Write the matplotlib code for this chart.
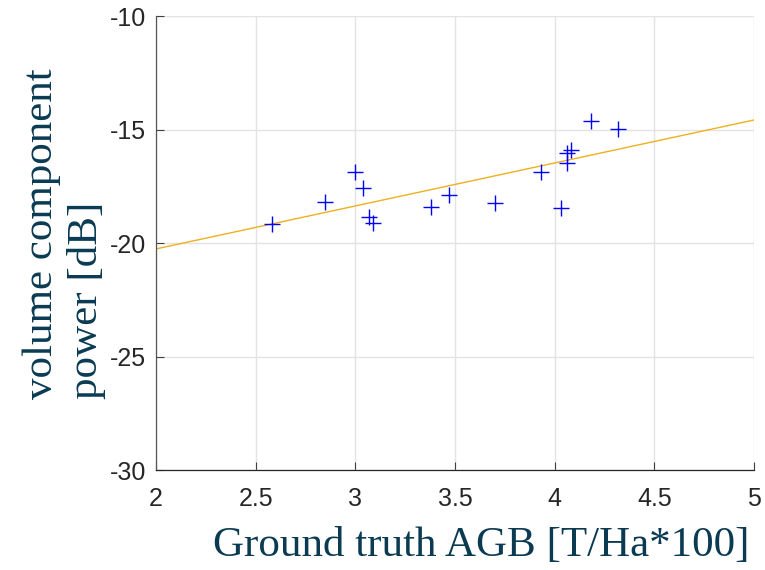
import numpy as np
import matplotlib.pyplot as plt

# ground truth AGB [T/Ha*100] vs volume component power [dB]
agb = [2.58, 2.85, 3.00, 3.04, 3.07, 3.09, 3.38, 3.47, 3.70, 3.93,
       4.03, 4.06, 4.08, 4.06, 4.18, 4.32]
power_db = [-19.16, -18.18, -16.89, -17.59, -18.84, -19.10, -18.41, -17.90,
            -18.24, -16.87, -18.47, -16.02, -15.90, -16.49, -14.63, -14.98]

# fitted line, read at the axis ends
fit_x = [2.0, 5.0]
fit_y = [-20.26, -14.58]

xticks = [2, 2.5, 3, 3.5, 4, 4.5, 5]
xticklabels = ["2", "2.5", "3", "3.5", "4", "4.5", "5"]
yticks = [-30, -25, -20, -15, -10]
yticklabels = ["-30", "-25", "-20", "-15", "-10"]


def main():
    fig = plt.figure(figsize=(7.65, 5.70), dpi=100)
    ax = fig.add_axes([0.2039, 0.1754, 0.7817, 0.7965])

    ax.plot(agb, power_db, "+", color="#0000ff", markersize=11, markeredgewidth=1.0,
            zorder=3)
    ax.plot(fit_x, fit_y, "-", color="#EDB120", linewidth=1.0, zorder=2)

    ax.set_xlim(2, 5)
    ax.set_ylim(-30, -10)
    ax.set_xticks(xticks)
    ax.set_xticklabels(xticklabels)
    ax.set_yticks(yticks)
    ax.set_yticklabels(yticklabels)

    ax.grid(True, color="#e3e3e3", linewidth=1.0)
    ax.set_axisbelow(True)
    for side in ["top", "right"]:
        ax.spines[side].set_visible(False)
    ax.spines["left"].set_color("#555555")
    ax.spines["bottom"].set_color("#262626")
    for side in ["left", "bottom"]:
        ax.spines[side].set_linewidth(0.9)

    ax.tick_params(direction="in", length=6, width=0.8, color="#404040",
                   labelsize=18, labelcolor="#262626")
    ax.tick_params(axis="x", pad=12)
    ax.tick_params(axis="y", pad=7)
    for lab in ax.get_xticklabels() + ax.get_yticklabels():
        lab.set_family("Liberation Sans")

    lab_font = dict(family="Liberation Serif", size=31, color="#0b3b52")
    fig.text(0.629, 0.008, "Ground truth AGB [T/Ha*100]", ha="center", va="bottom",
             **lab_font)
    fig.text(0.084, 0.59, "volume component\npower [dB]", ha="center", va="center",
             rotation=90, linespacing=1.22, multialignment="left", **lab_font)

    plt.savefig("out.png", format="png")


if __name__ == "__main__":
    main()
